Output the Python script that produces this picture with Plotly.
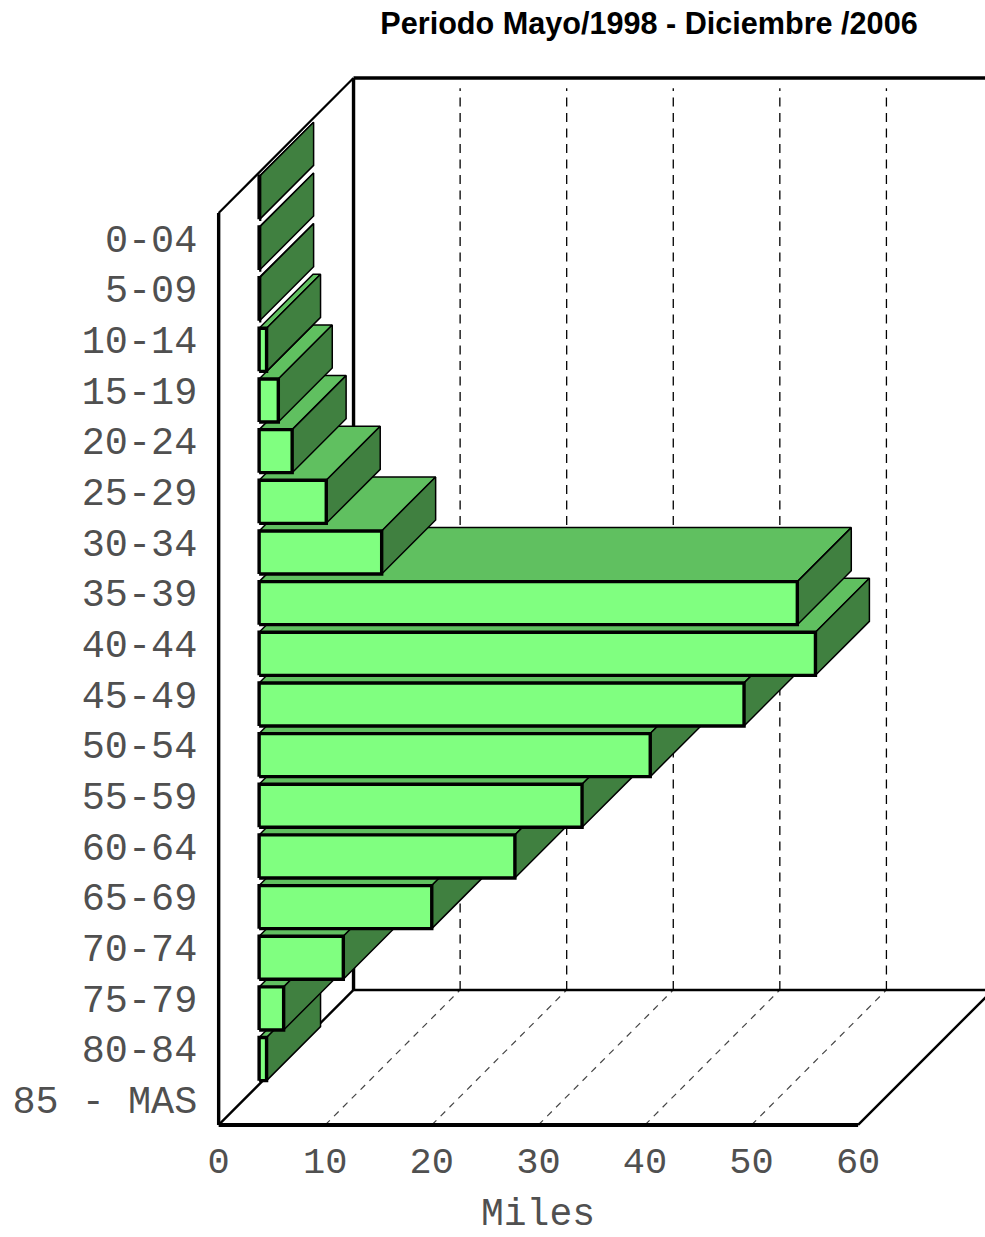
import plotly.graph_objects as go

# Age groups, listed from the top of the chart down
age_groups = ["0-04", "5-09", "10-14", "15-19", "20-24", "25-29", "30-34", "35-39", "40-44",
              "45-49", "50-54", "55-59", "60-64", "65-69", "70-74", "75-79", "80-84", "85 - MAS"]
# Thousands of people per age group
miles = [0.05, 0.05, 0.05, 0.7, 1.8, 3.1, 6.3, 11.5, 50.5,
         52.2, 45.5, 36.7, 30.3, 24.0, 16.2, 7.9, 2.3, 0.7]
x_ticks = [0, 10, 20, 30, 40, 50, 60]

title_text = "Periodo Mayo/1998 - Diciembre /2006"
x_title = "Miles"

FRONT = "#80ff80"
TOP = "#60c060"
SIDE = "#408040"
TEXT = "#505050"

# Oblique projection: the box depth expressed in each axis' units
PX_PER_X = 640 / 60
PX_PER_BAND = 912 / 18
DEPTH_X = 135 / PX_PER_X
DEPTH_Y = 135 / PX_PER_BAND
BAR_START = 0.30   # fraction of the depth where bars begin
BAR_DEPTH = 0.40   # fraction of the depth the bars occupy
BAR_HEIGHT = 0.85  # fraction of a band
n = len(age_groups)
x_max = x_ticks[-1]


def line(xs, ys, color="black", width=2, dash=None):
    return go.Scatter(x=xs, y=ys, mode="lines", hoverinfo="skip", showlegend=False,
                      line=dict(color=color, width=width, dash=dash))


def poly(xs, ys, fill, edge="black", width=1.5):
    return go.Scatter(x=xs + xs[:1], y=ys + ys[:1], mode="lines", fill="toself", fillcolor=fill,
                      hoverinfo="skip", showlegend=False, line=dict(color=edge, width=width))


fig = go.Figure()

# Dashed gridlines on the floor and the back wall
for t in x_ticks[1:]:
    fig.add_trace(line([t, t + DEPTH_X], [0, DEPTH_Y], color="#444444", width=1.2, dash="6.5px,6px"))
    fig.add_trace(line([t + DEPTH_X] * 2, [DEPTH_Y, n + DEPTH_Y - 0.2], width=1.3, dash="9px,6.5px"))

# Box frame
fig.add_trace(line([0, DEPTH_X], [0, DEPTH_Y], width=2.4))
fig.add_trace(line([DEPTH_X, x_max + DEPTH_X], [DEPTH_Y, DEPTH_Y], width=2.6))
fig.add_trace(line([x_max, x_max + DEPTH_X], [0, DEPTH_Y], width=2.4))
fig.add_trace(line([DEPTH_X, DEPTH_X], [DEPTH_Y, n + DEPTH_Y], width=3.4))
fig.add_trace(line([DEPTH_X, x_max + DEPTH_X], [n + DEPTH_Y, n + DEPTH_Y], width=3.4))
fig.add_trace(line([0, DEPTH_X], [n, n + DEPTH_Y], width=2.2))
fig.add_trace(line([0, 0], [0, n], width=3.4))
fig.add_trace(line([0, x_max], [0, 0], width=4))

# Bars are painted from the bottom row upward so upper bars overlap lower ones
x0 = BAR_START * DEPTH_X
dx = BAR_DEPTH * DEPTH_X
dy = BAR_DEPTH * DEPTH_Y
for i in range(n - 1, -1, -1):
    row = n - 1 - i
    centre = row + 0.5 + BAR_START * DEPTH_Y
    y0 = centre - BAR_HEIGHT / 2
    y1 = centre + BAR_HEIGHT / 2
    x1 = x0 + miles[i]
    fig.add_trace(poly([x0, x0 + dx, x1 + dx, x1], [y1, y1 + dy, y1 + dy, y1], TOP))
    fig.add_trace(poly([x1, x1 + dx, x1 + dx, x1], [y0, y0 + dy, y1 + dy, y1], SIDE))
    fig.add_trace(poly([x0, x1, x1, x0], [y0, y0, y1, y1], FRONT, width=3.4))

left_px = 207.83
plot_top = 60
plot_bottom = 1130
fig.update_layout(
    width=985, height=1237,
    margin=dict(l=left_px, r=0, t=plot_top, b=1237 - plot_bottom),
    paper_bgcolor="white", plot_bgcolor="white",
    title=dict(text=title_text, x=649 / 985, xanchor="center", y=1 - 23 / 1237, yanchor="middle",
               font=dict(family="Liberation Sans", size=30.6, color="black", weight="bold")),
    annotations=[dict(text=x_title, x=(538 - left_px) / (985 - left_px),
                      y=(plot_bottom - 1214) / (plot_bottom - plot_top),
                      xref="paper", yref="paper", xanchor="center", yanchor="middle",
                      showarrow=False, borderpad=0,
                      font=dict(family="Liberation Mono", size=38, color=TEXT))],
    xaxis=dict(range=[-1, (985 - 218) / PX_PER_X], tickmode="array", tickvals=x_ticks,
               showgrid=False, zeroline=False, showline=False, ticks="", ticklabelstandoff=5,
               tickfont=dict(family="Liberation Mono", size=37, color=TEXT)),
    yaxis=dict(range=[-0.1, (1125 - 60) / PX_PER_BAND], tickmode="array",
               tickvals=[n - 0.5 - i for i in range(n)], ticktext=age_groups,
               showgrid=False, zeroline=False, showline=False, ticks="outside", ticklen=2,
               tickcolor="rgba(0,0,0,0)",
               tickfont=dict(family="Liberation Mono", size=38.5, color=TEXT)),
)

fig.write_html("out.html")
